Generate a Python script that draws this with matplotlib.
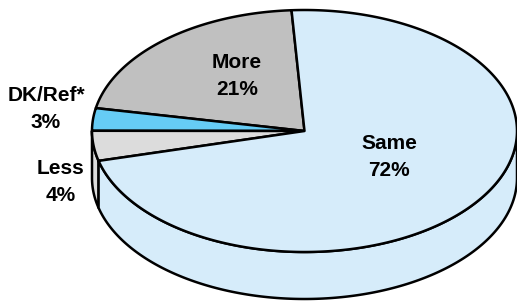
import numpy as np
import matplotlib
matplotlib.use('Agg')
import matplotlib.pyplot as plt
from matplotlib.patches import Polygon

# slices, counter-clockwise from the top
labels = ['More', 'DK/Ref*', 'Less', 'Same']
shares = [21, 3, 4, 72]
colors = ['#C0C0C0', '#66CCF5', '#DCDCDC', '#D6ECFA']

# label anchors (pixels)
label_pos = [(237, 76), (46, 109), (61, 182), (389, 157)]

# pie geometry in pixels
cx, cy = 304.5, 131
rx, ry = 212.5, 121
depth = 47
start = 93.5
lw = 1.8


def ell(t):
    t = np.radians(t)
    return cx + rx * np.cos(t), cy - ry * np.sin(t)


fig = plt.figure(figsize=(5.17, 3.02), dpi=100)
ax = fig.add_axes([0, 0, 1, 1])
ax.set_xlim(0, 517)
ax.set_ylim(302, 0)
ax.axis('off')

bounds = start + 3.6 * np.concatenate([[0], np.cumsum(shares)])

# side walls (front half only, 180..360 deg)
for i in range(len(shares)):
    t1, t2 = bounds[i], bounds[i + 1]
    for off in (0, 360):
        a = max(t1, 180 + off)
        b = min(t2, 360 + off)
        if b <= a:
            continue
        t = np.linspace(a, b, 200)
        x, y = ell(t)
        xs = np.concatenate([x, x[::-1]])
        ys = np.concatenate([y, y[::-1] + depth])
        ax.add_patch(Polygon(np.column_stack([xs, ys]), closed=True,
                             facecolor=colors[i], edgecolor='black',
                             lw=lw, joinstyle='round'))

# top faces
for i in range(len(shares)):
    t = np.linspace(bounds[i], bounds[i + 1], 300)
    x, y = ell(t)
    xs = np.concatenate([[cx], x])
    ys = np.concatenate([[cy], y])
    ax.add_patch(Polygon(np.column_stack([xs, ys]), closed=True,
                         facecolor=colors[i], edgecolor='black',
                         lw=lw, joinstyle='round'))

for lab, s, (px, py) in zip(labels, shares, label_pos):
    ax.text(px, py, '%s\n%d%%' % (lab, s), ha='center', va='center',
            fontsize=15, fontweight='bold', family='Liberation Sans',
            linespacing=1.5)

fig.savefig('out.png', dpi=100)
